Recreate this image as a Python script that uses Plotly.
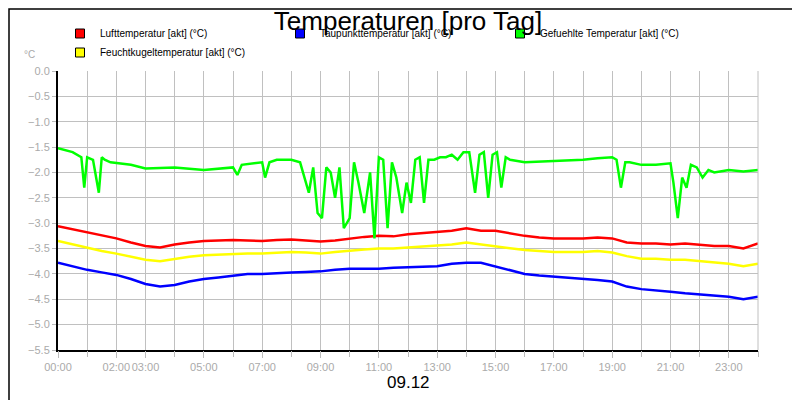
import plotly.graph_objects as go

hours = [0,0.5,1,1.5,2,2.5,3,3.5,4,4.5,5,5.5,6,6.5,7,7.5,8,8.5,9,9.5,10,10.5,11,11.5,12,12.5,13,13.5,14,14.5,15,15.5,16,16.5,17,17.5,18,18.5,19,19.5,20,20.5,21,21.5,22,22.5,23,23.5,24]
luft = [-3.06,-3.12,-3.18,-3.25,-3.3,-3.38,-3.45,-3.48,-3.42,-3.38,-3.35,-3.34,-3.33,-3.34,-3.35,-3.33,-3.32,-3.34,-3.36,-3.34,-3.3,-3.27,-3.25,-3.26,-3.22,-3.2,-3.18,-3.15,-3.1,-3.15,-3.15,-3.2,-3.25,-3.28,-3.3,-3.3,-3.3,-3.28,-3.3,-3.38,-3.4,-3.4,-3.42,-3.4,-3.42,-3.45,-3.45,-3.5,-3.4]
taup = [-3.78,-3.85,-3.92,-3.97,-4.02,-4.1,-4.2,-4.25,-4.22,-4.15,-4.1,-4.07,-4.03,-4.0,-4.0,-3.98,-3.97,-3.96,-3.95,-3.92,-3.9,-3.9,-3.9,-3.88,-3.87,-3.85,-3.85,-3.8,-3.78,-3.78,-3.85,-3.92,-4.0,-4.03,-4.05,-4.08,-4.1,-4.12,-4.15,-4.25,-4.3,-4.32,-4.35,-4.38,-4.4,-4.42,-4.45,-4.5,-4.45]
feucht = [-3.35,-3.42,-3.48,-3.55,-3.6,-3.66,-3.72,-3.75,-3.7,-3.66,-3.63,-3.62,-3.6,-3.6,-3.6,-3.58,-3.57,-3.58,-3.6,-3.57,-3.54,-3.52,-3.5,-3.5,-3.48,-3.46,-3.44,-3.42,-3.38,-3.42,-3.45,-3.5,-3.53,-3.55,-3.57,-3.57,-3.57,-3.55,-3.58,-3.65,-3.7,-3.7,-3.72,-3.72,-3.75,-3.77,-3.8,-3.85,-3.8]

g_hours = [0,0.5,0.8,0.9,1.0,1.2,1.4,1.5,1.6,1.8,2.5,3.0,4.0,5.0,6.0,6.15,6.3,7.0,7.1,7.25,7.5,8.0,8.3,8.6,8.75,8.9,9.05,9.2,9.35,9.5,9.65,9.8,10.0,10.15,10.3,10.5,10.7,10.85,11.0,11.15,11.3,11.45,11.6,11.8,11.95,12.1,12.25,12.4,12.55,12.7,12.9,13.1,13.3,13.5,13.7,13.9,14.1,14.3,14.45,14.6,14.75,14.9,15.05,15.2,15.35,15.5,16.0,17.0,18.0,18.5,19.0,19.15,19.3,19.45,19.6,20.0,20.5,21.0,21.1,21.25,21.4,21.55,21.7,21.9,22.1,22.3,22.5,23.0,23.5,24.0]
gefuehl = [-1.52,-1.6,-1.7,-2.3,-1.7,-1.75,-2.4,-1.7,-1.75,-1.8,-1.85,-1.92,-1.9,-1.95,-1.9,-2.05,-1.85,-1.8,-2.1,-1.8,-1.75,-1.75,-1.8,-2.4,-1.9,-2.8,-2.9,-1.9,-2.0,-2.5,-1.9,-3.1,-2.9,-1.8,-2.2,-2.8,-2.0,-3.3,-1.7,-1.75,-3.1,-1.8,-2.1,-2.8,-2.2,-2.6,-1.75,-1.7,-2.6,-1.75,-1.75,-1.7,-1.7,-1.65,-1.75,-1.6,-1.6,-2.4,-1.65,-1.6,-2.5,-1.65,-1.6,-2.3,-1.7,-1.75,-1.8,-1.78,-1.75,-1.72,-1.7,-1.75,-2.3,-1.8,-1.8,-1.85,-1.85,-1.82,-2.2,-2.9,-2.1,-2.3,-1.85,-1.9,-2.1,-1.95,-2.0,-1.95,-1.98,-1.95]

names = ["Lufttemperatur [akt] (°C)", "Taupunkttemperatur [akt] (°C)", "Gefuehlte Temperatur [akt] (°C)", "Feuchtkugeltemperatur [akt] (°C)"]
colors = ["#ff0000", "#0000ff", "#00ff00", "#ffff00"]
series = [(hours, luft), (hours, taup), (g_hours, gefuehl), (hours, feucht)]

fig = go.Figure()
for (x, y), c in zip(series, colors):
    fig.add_trace(go.Scatter(x=x, y=y, mode="lines", line=dict(color=c, width=2.5), showlegend=False))
for n, c in zip(names, colors):
    fig.add_trace(go.Scatter(x=[None], y=[None], mode="markers", name=n,
                             marker=dict(symbol="square", size=9, color=c, line=dict(color="black", width=1))))

tickvals = [0, 2, 3, 5, 7, 9, 11, 13, 15, 17, 19, 21, 23]
ticktext = ["%02d:00" % h for h in tickvals]

fig.update_layout(
    width=800, height=400, paper_bgcolor="white", plot_bgcolor="white",
    margin=dict(l=50, r=50, t=63, b=58, autoexpand=False),
    font=dict(family="Liberation Sans, Arial", color="black"),
    title=dict(text="Temperaturen [pro Tag]", x=0.5, xanchor="center", y=0.99, yanchor="top",
               font=dict(size=26, color="black")),
    legend=dict(orientation="h", x=2/700, xanchor="left", y=1+28/279, yanchor="middle",
                font=dict(size=10, color="black"), itemwidth=30, entrywidth=175, entrywidthmode="pixels",
                bgcolor="rgba(0,0,0,0)"),
    xaxis=dict(range=[0, 24], tickvals=tickvals, ticktext=ticktext, showgrid=False, tickangle=0,
               ticks="outside", ticklen=6, tickcolor="#bbbbbb", tickfont=dict(size=11, color="#aaaaaa"),
               showline=True, linecolor="black", linewidth=2, zeroline=False),
    xaxis2=dict(range=[0, 24], overlaying="x", dtick=1, tick0=0, showticklabels=False,
                showgrid=True, gridcolor="#c0c0c0", gridwidth=1, ticks="outside", ticklen=6,
                tickcolor="#bbbbbb", side="bottom", zeroline=False),
    yaxis=dict(range=[-5.5, 0], dtick=0.5, tickformat=".1f", showgrid=True, gridcolor="#c0c0c0",
               ticks="outside", ticklen=4, tickcolor="#bbbbbb", tickfont=dict(size=11, color="#aaaaaa"),
               showline=True, linecolor="black", linewidth=2, zeroline=False),
    annotations=[
        dict(text="°C", xref="paper", yref="paper", x=-36/700, y=1+9/279, showarrow=False,
             xanchor="left", yanchor="bottom", font=dict(size=10, color="#aaaaaa")),
        dict(text="09.12", xref="paper", yref="paper", x=0.5, y=-44/279, showarrow=False,
             xanchor="center", yanchor="bottom", font=dict(size=17, color="black")),
    ],
    shapes=[
        dict(type="rect", xref="paper", yref="paper", x0=-49/700, x1=1+49/700, y0=-57/279, y1=1+62/279,
             line=dict(color="black", width=1.5)),
        dict(type="line", xref="paper", yref="paper", x0=1, x1=1, y0=0, y1=1, line=dict(color="#c0c0c0", width=1)),
    ],
)
fig.add_trace(go.Scatter(x=[0, 24], y=[None, None], xaxis="x2", showlegend=False, hoverinfo="skip"))
fig.write_html("out.html")
